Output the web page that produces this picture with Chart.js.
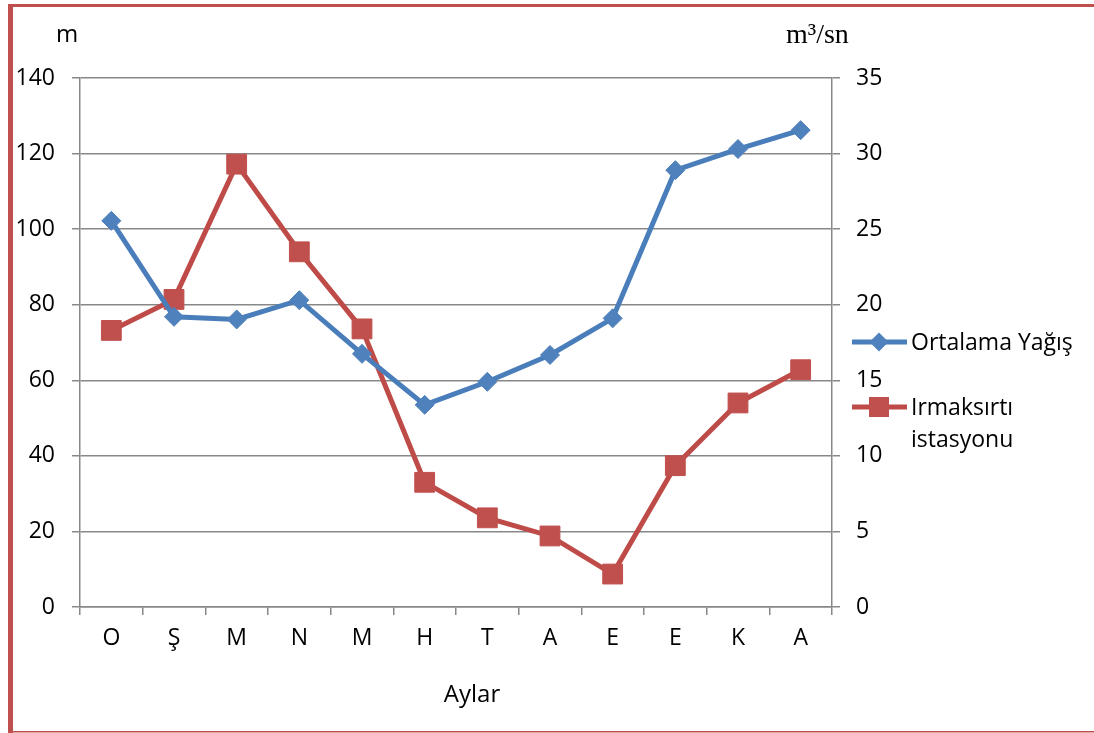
<!DOCTYPE html>
<html>
<head>
<meta charset="utf-8">
<script src="https://cdn.jsdelivr.net/npm/chart.js@4/dist/chart.umd.min.js"></script>
<style>
  html, body { margin: 0; padding: 0; background: #fff; }
  #wrap { position: relative; width: 1094px; height: 733px; }
</style>
</head>
<body>
<div id="wrap"><canvas id="c" width="1094" height="733"></canvas></div>
<script>
// Months (Ekim → Ağustos)
const months = ['O', 'Ş', 'M', 'N', 'M', 'H', 'T', 'A', 'E', 'E', 'K', 'A'];
// Mean precipitation (left axis, m)
const ortalamaYagis = [102.2, 76.8, 76.1, 81.2, 67.0, 53.5, 59.6, 66.7, 76.4, 115.6, 121.2, 126.2];
// Irmaksırtı station discharge (right axis, m³/sn)
const irmaksirti = [18.3, 20.35, 29.3, 23.5, 18.4, 8.25, 5.9, 4.7, 2.18, 9.35, 13.5, 15.7];
const leftTicks = [0, 20, 40, 60, 80, 100, 120, 140];
const rightTicks = [0, 5, 10, 15, 20, 25, 30, 35];

const FONT = '"Open Sans", "Liberation Sans", sans-serif';
const BLUE_LINE = '#4A7EBB', BLUE_PT = '#4F81BD';
const RED_LINE = '#BE4B48', RED_PT = '#C0504D';
const GRID = '#888888';

function diamond(ctx, x, y, r, color) {
  ctx.save();
  ctx.fillStyle = color;
  ctx.beginPath();
  ctx.moveTo(x, y - r); ctx.lineTo(x + r, y); ctx.lineTo(x, y + r); ctx.lineTo(x - r, y);
  ctx.closePath(); ctx.fill();
  ctx.restore();
}
function square(ctx, x, y, s, color) {
  ctx.save();
  ctx.fillStyle = color;
  ctx.fillRect(x - s / 2, y - s / 2, s, s);
  ctx.restore();
}

const framePlugin = {
  id: 'frame',
  beforeDraw(chart) {
    const ctx = chart.ctx;
    ctx.save();
    ctx.fillStyle = '#fff';
    ctx.fillRect(0, 0, chart.width, chart.height);
    ctx.fillStyle = '#C0504D';
    ctx.fillRect(8, 4, 5, 729);        // left bar
    ctx.fillRect(8, 4, 1086, 3);       // top line
    ctx.fillRect(8, 731, 1086, 1.5);   // bottom line
    ctx.restore();
  },
  afterDraw(chart) {
    const ctx = chart.ctx;
    ctx.save();
    ctx.fillStyle = '#000';
    // axis unit labels
    ctx.textBaseline = 'alphabetic';
    ctx.textAlign = 'left';
    ctx.font = '24px ' + FONT;
    ctx.fillText('m', 56, 42);
    ctx.font = '28px "Liberation Serif", "Times New Roman", serif';
    ctx.fillText('m³/sn', 786, 43);
    // category axis title
    ctx.font = '24px ' + FONT;
    ctx.textAlign = 'center';
    ctx.fillText('Aylar', 472, 702);

    // legend
    const lx0 = 852, lx1 = 907, lxm = 879;
    ctx.lineWidth = 5;
    ctx.strokeStyle = BLUE_LINE;
    ctx.beginPath(); ctx.moveTo(lx0, 342); ctx.lineTo(lx1, 342); ctx.stroke();
    diamond(ctx, lxm, 342, 9.5, BLUE_PT);
    ctx.strokeStyle = RED_LINE;
    ctx.beginPath(); ctx.moveTo(lx0, 407); ctx.lineTo(lx1, 407); ctx.stroke();
    square(ctx, lxm, 407, 20, RED_PT);

    ctx.font = '23px ' + FONT;
    ctx.textAlign = 'left';
    ctx.textBaseline = 'middle';
    ctx.fillText('Ortalama Yağış', 911, 343);
    ctx.fillText('Irmaksırtı', 911, 408);
    ctx.fillText('istasyonu', 911, 440);
    ctx.restore();
  }
};

new Chart(document.getElementById('c'), {
  type: 'line',
  data: {
    labels: months,
    datasets: [
      {
        label: 'Ortalama Yağış',
        data: ortalamaYagis,
        yAxisID: 'y',
        borderColor: BLUE_LINE,
        backgroundColor: BLUE_PT,
        borderWidth: 5,
        pointStyle: 'rectRot',
        pointRadius: 9.5,
        pointBorderWidth: 1,
        pointBorderColor: BLUE_PT,
        pointBackgroundColor: BLUE_PT,
        tension: 0,
        fill: false
      },
      {
        label: 'Irmaksırtı istasyonu',
        data: irmaksirti,
        yAxisID: 'y1',
        borderColor: RED_LINE,
        backgroundColor: RED_PT,
        borderWidth: 5,
        pointStyle: 'rect',
        pointRadius: 14,
        pointBorderWidth: 1,
        pointBorderColor: RED_PT,
        pointBackgroundColor: RED_PT,
        tension: 0,
        fill: false
      }
    ]
  },
  options: {
    responsive: false,
    animation: false,
    devicePixelRatio: 1,
    layout: { autoPadding: false, padding: { left: 14, right: 0, top: 78, bottom: 0 } },
    plugins: { legend: { display: false }, tooltip: { enabled: false } },
    scales: {
      x: {
        type: 'category',
        offset: true,
        grid: { offset: true, drawOnChartArea: false, drawTicks: true, tickLength: 8, color: GRID, lineWidth: 1.5 },
        border: { display: true, color: GRID, width: 1.5 },
        ticks: { color: '#000', font: { family: FONT, size: 23 }, padding: 10, maxRotation: 0, autoSkip: false },
        afterFit(scale) { scale.height = 126; }
      },
      y: {
        position: 'left',
        min: 0, max: 140,
        afterBuildTicks(scale) { scale.ticks = leftTicks.map(v => ({ value: v })); },
        grid: { color: GRID, lineWidth: 1.5, tickLength: 8, drawTicks: true },
        border: { display: true, color: GRID, width: 1.5 },
        ticks: { color: '#000', font: { family: FONT, size: 23 }, padding: 17 },
        afterFit(scale) { scale.width = 66; }
      },
      y1: {
        position: 'right',
        min: 0, max: 35,
        afterBuildTicks(scale) { scale.ticks = rightTicks.map(v => ({ value: v })); },
        grid: { drawOnChartArea: false, color: GRID, lineWidth: 1.5, tickLength: 8, drawTicks: true },
        border: { display: true, color: GRID, width: 1.5 },
        ticks: { color: '#000', font: { family: FONT, size: 23 }, padding: 16 },
        afterFit(scale) { scale.width = 262; }
      }
    }
  },
  plugins: [framePlugin]
});
</script>
</body>
</html>
